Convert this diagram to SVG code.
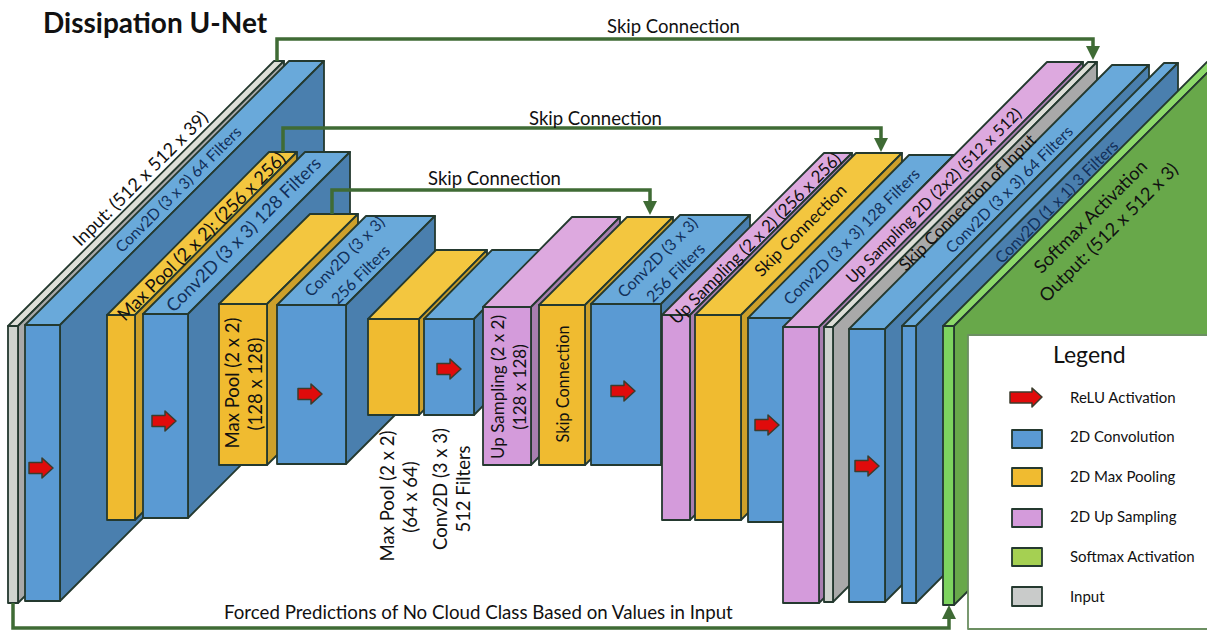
<svg xmlns="http://www.w3.org/2000/svg" width="1207" height="631" viewBox="0 0 1207 631">
<style>
text{font-family:"Lato","Liberation Sans",sans-serif;fill:#111}
.l{text-anchor:middle;dominant-baseline:central}
.s{font-size:16px}.m{font-size:18.500px}.n{font-size:17px}.b{font-size:18.200px}
.d{fill:#12305a}
polygon,rect{stroke:#24392f;stroke-width:1.8;stroke-linejoin:round}
.bf{fill:#5a9ad3}.bt{fill:#69a9da}.bs{fill:#4a7fae}
.yf{fill:#f0bb30}.yt{fill:#f3c63f}.ys{fill:#cda02a}
.pf{fill:#d49bdb}.pt{fill:#dda9df}.ps{fill:#a87eb0}
.gf{fill:#cfd3ce}.gt{fill:#dedfd8}.gs{fill:#a9a9a9}
.sf{fill:#7dd45f}.st{fill:#8cd869}.ss{fill:#68a84a}
.ar{fill:#e00b0b;stroke:#3c3c2c;stroke-width:1.5}
.c{fill:none;stroke:#3f6b35;stroke-width:3.500}
.h{fill:#3f6b35;stroke:none}
.bg{fill:#fff;stroke:none}
.lg{fill:#fff;stroke:#6c8f62}
</style>
<defs>
<polygon id="ra" class="ar" points="-12,-5.500 1,-5.500 1,-10 12,0 1,10 1,5.500 -12,5.500"/>
</defs>
<rect class="bg" width="1207" height="631"/>
<text x="43" y="33" font-size="28" font-weight="700" fill="#000">Dissipation U-Net</text>

<g id="input">
<polygon class="gt" points="8,326 274,61 284,61 18,326"/><polygon class="gs" points="18,326 284,61 284,338 18,603"/><rect class="gf" x="8" y="326" width="10" height="277"/>
<text class="l b" transform="translate(140 178) rotate(-45)">Input: (512 x 512 x 39)</text>
</g>
<g id="conv1">
<polygon class="bt" points="25,325 289,61 324,61 60,325"/><polygon class="bs" points="60,325 324,61 324,337 60,601"/><rect class="bf" x="25" y="325" width="35" height="276"/>
<use href="#ra" x="41" y="468"/>
<text class="l d" font-size="15.500" transform="translate(178 189) rotate(-45)">Conv2D (3 x 3) 64 Filters</text>
</g>
<g id="maxpool1">
<polygon class="yt" points="107,315 269,152 297,152 135,315"/><polygon class="ys" points="135,315 297,152 297,357 135,520"/><rect class="yf" x="107" y="315" width="28" height="205"/>
</g>
<g id="conv2">
<polygon class="bt" points="143,314 305,152 350,152 188,314"/><polygon class="bs" points="188,314 350,152 350,356 188,518"/><rect class="bf" x="143" y="314" width="45" height="204"/>
<use href="#ra" x="164" y="421"/>
<text class="l b" transform="translate(201 236) rotate(-45)">Max Pool (2 x 2): (256 x 256)</text>
<text class="l b d" transform="translate(243 234) rotate(-45)">Conv2D (3 x 3) 128 Filters</text>
</g>
<g id="maxpool2">
<polygon class="yt" points="219,304 310,214 358,214 267,304"/><polygon class="ys" points="267,304 358,214 358,375 267,465"/><rect class="yf" x="219" y="304" width="48" height="161"/>
<text class="l m" transform="translate(232 383) rotate(-90)">Max Pool (2 x 2)</text>
<text class="l m" transform="translate(255 384) rotate(-90)">(128 x 128)</text>
</g>
<g id="conv3">
<polygon class="bt" points="277,305 366,216 435,216 346,305"/><polygon class="bs" points="346,305 435,216 435,375 346,464"/><rect class="bf" x="277" y="305" width="69" height="159"/>
<use href="#ra" x="310" y="394"/>
<text class="l s d" transform="translate(344 256) rotate(-45)">Conv2D (3 x 3)</text>
<text class="l s d" transform="translate(360 274) rotate(-45)">256 Filters</text>
</g>
<g id="maxpool3">
<polygon class="yt" points="368,319 436,250 487,250 419,319"/><polygon class="ys" points="419,319 487,250 487,346 419,415"/><rect class="yf" x="368" y="319" width="51" height="96"/>
<text class="l m" transform="translate(387 496) rotate(-90)">Max Pool (2 x 2)</text>
<text class="l m" transform="translate(410 497) rotate(-90)">(64 x 64)</text>
</g>
<g id="conv4">
<polygon class="bt" points="424,319 492,250 542,250 474,319"/><polygon class="bs" points="474,319 542,250 542,346 474,415"/><rect class="bf" x="424" y="319" width="50" height="96"/>
<use href="#ra" x="449" y="369"/>
<text class="l m" transform="translate(440 489) rotate(-90)">Conv2D (3 x 3)</text>
<text class="l m" transform="translate(463 489) rotate(-90)">512 Filters</text>
</g>
<g id="upsample1">
<polygon class="pt" points="483,307 572,217 620,217 531,307"/><polygon class="ps" points="531,307 620,217 620,375 531,465"/><rect class="pf" x="483" y="307" width="48" height="158"/>
<text class="l n" transform="translate(497 387) rotate(-90)">Up Sampling (2 x 2)</text>
<text class="l n" transform="translate(519 387) rotate(-90)">(128 x 128)</text>
</g>
<g id="skip1">
<polygon class="yt" points="539,305 627,217 673,217 585,305"/><polygon class="ys" points="585,305 673,217 673,377 585,465"/><rect class="yf" x="539" y="305" width="46" height="160"/>
<text class="l" font-size="16.300" transform="translate(562 384) rotate(-90)">Skip Connection</text>
</g>
<g id="conv5">
<polygon class="bt" points="591,304 680,215 750,215 661,304"/><polygon class="bs" points="661,304 750,215 750,376 661,465"/><rect class="bf" x="591" y="304" width="70" height="161"/>
<use href="#ra" x="623" y="391"/>
<text class="l s d" transform="translate(657 257) rotate(-45)">Conv2D (3 x 3)</text>
<text class="l s d" transform="translate(675 272) rotate(-45)">256 Filters</text>
</g>
<g id="upsample2">
<polygon class="pt" points="662,315 824,153 852,153 690,315"/><polygon class="ps" points="690,315 852,153 852,358 690,520"/><rect class="pf" x="662" y="315" width="28" height="205"/>
</g>
<g id="skip2">
<polygon class="yt" points="695,315 856,153 902,153 741,315"/><polygon class="ys" points="741,315 902,153 902,358 741,520"/><rect class="yf" x="695" y="315" width="46" height="205"/>
<text class="l n" transform="translate(755 238) rotate(-45)">Up Sampling (2 x 2) (256 x 256)</text>
<text class="l n" transform="translate(800 230) rotate(-45)">Skip Connection</text>
</g>
<g id="conv6">
<polygon class="bt" points="748,318 909,155 954,155 793,318"/><polygon class="bs" points="793,318 954,155 954,359 793,522"/><rect class="bf" x="748" y="318" width="45" height="204"/>
<use href="#ra" x="767" y="425"/>
<text class="l s d" transform="translate(851 236) rotate(-45)">Conv2D (3 x 3) 128 Filters</text>
</g>
<g id="upsample3">
<polygon class="pt" points="783,327 1047,62 1083,62 819,327"/><polygon class="ps" points="819,327 1083,62 1083,338 819,603"/><rect class="pf" x="783" y="327" width="36" height="276"/>
<text class="l" font-size="16.200" transform="translate(933 195) rotate(-45)">Up Sampling 2D (2x2) (512 x 512)</text>
</g>
<g id="input2">
<polygon class="gt" points="824,327 1088,62 1097,62 833,327"/><polygon class="gs" points="833,327 1097,62 1097,337 833,602"/><rect class="gf" x="824" y="327" width="9" height="275"/>
</g>
<g id="conv7">
<polygon class="bt" points="849,329 1112,65 1149,65 885,329"/><polygon class="bs" points="885,329 1149,65 1149,338 885,602"/><rect class="bf" x="849" y="329" width="36" height="273"/>
<use href="#ra" x="867" y="466"/>
<text class="l n" transform="translate(967 202) rotate(-45)">Skip Connection of Input</text>
<text class="l d" font-size="15.700" transform="translate(1009 189) rotate(-45)">Conv2D (3 x 3) 64 Filters</text>
</g>
<g id="conv8">
<polygon class="bt" points="902,326 1164,63 1178,63 916,326"/><polygon class="bs" points="916,326 1178,63 1178,340 916,603"/><rect class="bf" x="902" y="326" width="14" height="277"/>
<text class="l s d" transform="translate(1056 201) rotate(-45)">Conv2D (1 x 1) 3 Filters</text>
</g>
<g id="softmax">
<polygon class="st" points="943,326 1207,62 1218,62 954,326"/><polygon class="ss" points="954,326 1218,62 1218,341 954,605"/><rect class="sf" x="943" y="326" width="11" height="279"/>
<text class="l b" transform="translate(1090 216) rotate(-45)">Softmax Activation</text>
<text class="l b" transform="translate(1108 232) rotate(-45)">Output: (512 x 512 x 3)</text>
</g>

<g id="connectors">
<path class="c" d="M277 61V39H1093V50"/><polygon class="h" points="1086,46 1100,46 1093,60"/>
<path class="c" d="M283 152V128H881V139"/><polygon class="h" points="874,138 888,138 881,152"/>
<path class="c" d="M332 214V190H650V201"/><polygon class="h" points="643,201 657,201 650,215"/>
<path class="c" d="M13 603V628H949V617"/><polygon class="h" points="942,619 956,619 949,605"/>
</g>
<text x="607" y="33" font-size="18.500">Skip Connection</text>
<text x="529" y="125" font-size="18.500">Skip Connection</text>
<text x="428" y="185" font-size="18.500">Skip Connection</text>
<text x="224" y="619" font-size="18.700">Forced Predictions of No Cloud Class Based on Values in Input</text>

<g id="legend">
<rect class="lg" x="968" y="335" width="242" height="294"/>
<text x="1053" y="363" font-size="23">Legend</text>
<polygon class="ar" points="1010,392 1032,392 1032,388 1042,397 1032,407 1032,403 1010,403"/>
<rect class="bf" x="1012" y="430" width="30" height="18"/>
<rect class="yf" x="1012" y="468" width="30" height="18"/>
<rect class="pf" x="1012" y="509" width="30" height="18"/>
<rect x="1012" y="548" width="30" height="18" fill="#a5d052"/>
<rect x="1012" y="587" width="30" height="19" fill="#c9cbca"/>
<text x="1070" y="403" font-size="15">ReLU Activation</text>
<text x="1070" y="442" font-size="15">2D Convolution</text>
<text x="1070" y="482" font-size="15">2D Max Pooling</text>
<text x="1070" y="522" font-size="15">2D Up Sampling</text>
<text x="1070" y="562" font-size="15">Softmax Activation</text>
<text x="1070" y="602" font-size="15">Input</text>
</g>
</svg>
